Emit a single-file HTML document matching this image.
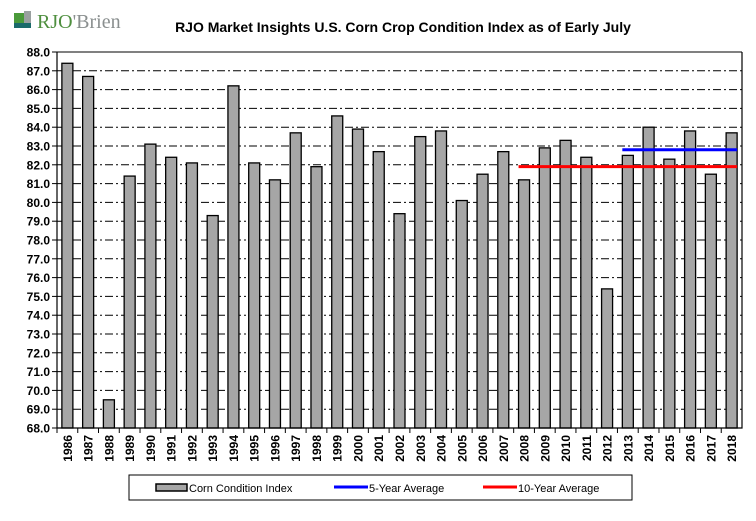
<!DOCTYPE html>
<html><head><meta charset="utf-8">
<style>
body{margin:0;background:#fff;font-family:"Liberation Sans",Arial,sans-serif;}
svg text{font-family:"Liberation Sans",Arial,sans-serif;}
</style></head>
<body>
<svg id="c" width="756" height="516" xmlns="http://www.w3.org/2000/svg">
<g>
<rect x="14" y="13" width="10" height="14" fill="#4a9a3a"/>
<rect x="24" y="11" width="7" height="16" fill="#9aa0a0"/>
<rect x="14" y="23" width="17" height="5" fill="#1a6a6a"/>
<text x="37" y="28" style="font-family:'Liberation Serif',serif;font-size:20px"><tspan fill="#4f8f3f">RJO</tspan><tspan fill="#8a8f8f">'Brien</tspan></text>
</g>
<text x="403" y="32" text-anchor="middle" font-size="14" font-weight="bold">RJO Market Insights U.S. Corn Crop Condition Index as of Early July</text>
<g id="grid"></g><g id="bars"></g><g id="axes"></g><g id="lines"></g>
<g>
<rect x="129" y="475" width="503" height="25" fill="#fff" stroke="#000"/>
<rect x="156" y="484" width="31" height="7" fill="#a6a6a6" stroke="#000" stroke-width="1.5"/>
<text x="189" y="492" font-size="11">Corn Condition Index</text>
<line x1="334" y1="487" x2="368" y2="487" stroke="#0000ff" stroke-width="3"/>
<text x="369" y="492" font-size="11">5-Year Average</text>
<line x1="483" y1="487" x2="517" y2="487" stroke="#ff0000" stroke-width="3"/>
<text x="518" y="492" font-size="11">10-Year Average</text>
</g>
</svg>
<script>
const years=[1986,1987,1988,1989,1990,1991,1992,1993,1994,1995,1996,1997,1998,1999,2000,2001,2002,2003,2004,2005,2006,2007,2008,2009,2010,2011,2012,2013,2014,2015,2016,2017,2018];
const values=[87.4,86.7,69.5,81.4,83.1,82.4,82.1,79.3,86.2,82.1,81.2,83.7,81.9,84.6,83.9,82.7,79.4,83.5,83.8,80.1,81.5,82.7,81.2,82.9,83.3,82.4,75.4,82.5,84.0,82.3,83.8,81.5,83.7];
const avg5=[82.8,2013,2018];
const avg10=[81.9,2008,2018];
const yTicks=[68,69,70,71,72,73,74,75,76,77,78,79,80,81,82,83,84,85,86,87,88];
const NS="http://www.w3.org/2000/svg";
const L=57,R=742,T=52,B=428,ymin=68,ymax=88;
const bw=(R-L)/years.length,barW=11;
const y=v=>B-(v-ymin)/(ymax-ymin)*(B-T);
const x=i=>L+bw*(i+0.5);
function mk(p,tag,a){const e=document.createElementNS(NS,tag);for(const k in a)e.setAttribute(k,a[k]);document.getElementById(p).appendChild(e);return e;}
yTicks.forEach(t=>{
 if(t>ymin&&t<ymax){const g=mk('grid','line',{x1:L,x2:R,y1:y(t),y2:y(t),stroke:'#000','stroke-width':1,'stroke-dasharray':'8,3,2,3'});
 
 }
 const tk=mk('axes','line',{x1:L-5,x2:L,y1:y(t),y2:y(t),stroke:'#000'});
 
 
 const tx=mk('axes','text',{x:L-7,y:y(t)+4.5,'text-anchor':'end','font-size':12,'font-weight':'bold'});
 tx.textContent=t.toFixed(1);
 
 
});
years.forEach((yr,i)=>{
 const b=mk('bars','rect',{x:x(i)-barW/2,y:y(values[i]),width:barW,height:B-y(values[i]),fill:'#a6a6a6',stroke:'#000','stroke-width':1.3});
 
 
 const tk=mk('axes','line',{x1:L+bw*i,x2:L+bw*i,y1:B,y2:B+5,stroke:'#000'});
 
 
 const tx=mk('axes','text',{x:0,y:0,'text-anchor':'end','font-size':12,'font-weight':'bold',transform:`translate(${x(i)+4.5},${B+7}) rotate(-90)`});
 tx.textContent=yr;
 
 
});
const ax=mk('axes','path',{d:`M${L},${T}V${B}H${R}V${T}`,fill:'none',stroke:'#000','stroke-width':1.2});


mk('axes','line',{x1:L,x2:R,y1:T,y2:T,stroke:'#000'});
function avgLine(a,col,name){
 const i0=years.indexOf(a[1]),i1=years.indexOf(a[2]);
 const l=mk('lines','line',{x1:x(i0)-barW/2,x2:x(i1)+barW/2,y1:y(a[0]),y2:y(a[0]),stroke:col,'stroke-width':3});
 
 
}
avgLine(avg10,'#ff0000','ten-year-average-line');
avgLine(avg5,'#0000ff','five-year-average-line');
</script>
</body></html>
